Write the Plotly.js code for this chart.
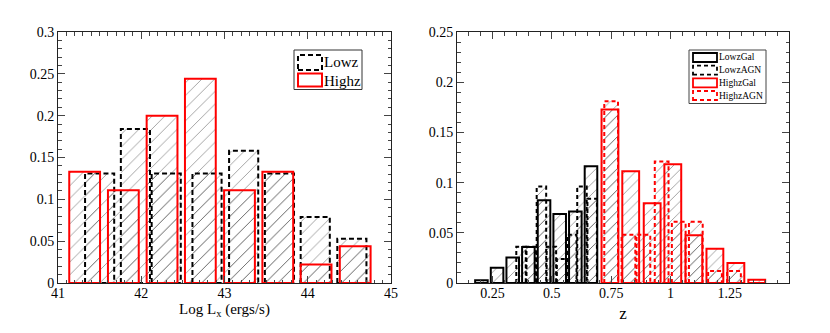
<!DOCTYPE html>
<html>
<head>
<meta charset="utf-8">
<script src="https://cdn.plot.ly/plotly-3.0.1.min.js"></script>
<style>html,body{margin:0;padding:0;background:#fff;}#chart{width:830px;height:333px;}</style>
</head>
<body>
<div id="chart"></div>
<script>
// ---- Left panel: Log Lx distributions ----
const lxLowzCenters = [41.50, 41.93, 42.30, 42.79, 43.23, 43.66, 44.09, 44.53];
const lxLowzFrac    = [0.131, 0.184, 0.131, 0.131, 0.158, 0.131, 0.079, 0.053];
const lxHighzCenters = [41.32, 41.785, 42.25, 42.71, 43.18, 43.64, 44.10, 44.57];
const lxHighzFrac    = [0.133, 0.111, 0.200, 0.244, 0.111, 0.133, 0.022, 0.044];

// ---- Right panel: redshift distributions ----
const zLowzGalCenters = [0.203, 0.269, 0.335, 0.401, 0.467, 0.533, 0.599, 0.665];
const zLowzGalFrac    = [0.0027, 0.0153, 0.0253, 0.0359, 0.0824, 0.0688, 0.0711, 0.1164];
const zLowzAgnCenters = [0.370, 0.413, 0.456, 0.498, 0.541, 0.584, 0.627, 0.670];
const zLowzAgnFrac    = [0.036, 0.036, 0.096, 0.036, 0.024, 0.048, 0.096, 0.084];
const zHighzGalCenters = [0.745, 0.8325, 0.923, 1.010, 1.099, 1.1875, 1.276, 1.364];
const zHighzGalFrac    = [0.1729, 0.1114, 0.0795, 0.1184, 0.0475, 0.0342, 0.0200, 0.0033];
const zHighzAgnCenters = [0.750, 0.823, 0.886, 0.963, 1.035, 1.107, 1.188, 1.268];
const zHighzAgnFrac    = [0.181, 0.048, 0.048, 0.121, 0.061, 0.061, 0.012, 0.012];

const leftTicks = [41, 42, 43, 44, 45];
const rightTicks = [0.25, 0.5, 0.75, 1, 1.25];
const leftLegend = ['Lowz', 'Highz'];
const rightLegend = ['LowzGal', 'LowzAGN', 'HighzGal', 'HighzAGN'];

const W = 830, H = 333;
const FONT = 'Liberation Serif';
const HATCH = '#383838';

function hatchBar(x, y, width, xa, ya, size, solidity) {
  return {
    type: 'bar', x: x, y: y, width: width, xaxis: xa, yaxis: ya,
    marker: {
      color: 'rgba(0,0,0,0)',
      line: {width: 0},
      pattern: {shape: '/', fgcolor: HATCH, bgcolor: 'rgba(0,0,0,0)', size: size, solidity: solidity, fillmode: 'overlay'}
    },
    hoverinfo: 'skip', showlegend: false
  };
}
function outline(x, y, width, xa, ya, color, lw, dash) {
  const xs = [], ys = [];
  for (let i = 0; i < x.length; i++) {
    const x0 = x[i] - width / 2, x1 = x[i] + width / 2;
    xs.push(x0, x0, x1, x1, x0, null);
    ys.push(0, y[i], y[i], 0, 0, null);
  }
  return {
    type: 'scatter', mode: 'lines', x: xs, y: ys, xaxis: xa, yaxis: ya,
    line: {color: color, width: lw, dash: dash}, connectgaps: false,
    hoverinfo: 'skip', showlegend: false
  };
}

const data = [
  hatchBar(lxLowzCenters, lxLowzFrac, 0.35, 'x', 'y', 9, 0.1),
  hatchBar(lxHighzCenters, lxHighzFrac, 0.37, 'x', 'y', 9, 0.1),
  outline(lxLowzCenters, lxLowzFrac, 0.35, 'x', 'y', '#000', 2, '5px,3px'),
  outline(lxHighzCenters, lxHighzFrac, 0.37, 'x', 'y', '#ff0000', 2, 'solid'),

  hatchBar(zLowzGalCenters, zLowzGalFrac, 0.053, 'x2', 'y2', 7.5, 0.12),
  hatchBar(zLowzAgnCenters, zLowzAgnFrac, 0.040, 'x2', 'y2', 7.5, 0.12),
  hatchBar(zHighzGalCenters, zHighzGalFrac, 0.071, 'x2', 'y2', 7.5, 0.12),
  hatchBar(zHighzAgnCenters, zHighzAgnFrac, 0.058, 'x2', 'y2', 7.5, 0.12),
  outline(zLowzGalCenters, zLowzGalFrac, 0.053, 'x2', 'y2', '#000', 2, 'solid'),
  outline(zLowzAgnCenters, zLowzAgnFrac, 0.040, 'x2', 'y2', '#000', 2, '4px,3px'),
  outline(zHighzGalCenters, zHighzGalFrac, 0.071, 'x2', 'y2', '#ff0000', 2, 'solid'),
  outline(zHighzAgnCenters, zHighzAgnFrac, 0.058, 'x2', 'y2', '#ff0000', 2, '4px,3px')
];

function px(x) { return x / W; }
function py(y) { return 1 - y / H; }

const axisCommon = {
  showgrid: false, zeroline: false, showline: true, mirror: 'ticks',
  linecolor: '#222', linewidth: 1, ticks: 'inside', ticklen: 7, tickwidth: 1, tickcolor: '#444',
  tickfont: {family: FONT, size: 14, color: '#000'}, fixedrange: true
};

const shapes = [];
const annotations = [];
function rectPx(x0, y0, x1, y1, color, w, dash) {
  shapes.push({type: 'rect', xref: 'paper', yref: 'paper', x0: px(x0), x1: px(x1), y0: py(y1), y1: py(y0),
    line: {color: color, width: w, dash: dash}, fillcolor: 'rgba(0,0,0,0)'});
}
function textPx(x, y, t, size) {
  annotations.push({xref: 'paper', yref: 'paper', x: px(x), y: py(y), text: t, showarrow: false,
    xanchor: 'left', yanchor: 'middle', font: {family: FONT, size: size, color: '#000'}});
}
// left legend
rectPx(294, 50, 362, 89.5, '#333', 1, 'solid');
rectPx(298, 55, 322, 70, '#000', 2, '5px,3px');
rectPx(298, 73.5, 322, 86.5, '#ff0000', 2, 'solid');
textPx(322, 62.5, leftLegend[0], 15);
textPx(322, 80.5, leftLegend[1], 15);
// right legend
rectPx(689, 50, 766, 103.5, '#444', 1, 'solid');
const rowY = [57.5, 70.2, 82.8, 95.5];
const sampColors = ['#000', '#000', '#ff0000', '#ff0000'];
const sampDash = ['solid', '4px,3px', 'solid', '4px,3px'];
for (let i = 0; i < 4; i++) {
  rectPx(693, rowY[i] - 4.5, 717, rowY[i] + 4.5, sampColors[i], 1.8, sampDash[i]);
  textPx(717, rowY[i], rightLegend[i], 9.5);
}

const layout = {
  width: W, height: H,
  margin: {l: 0, r: 0, t: 0, b: 0},
  paper_bgcolor: '#fff', plot_bgcolor: '#fff',
  showlegend: false, barmode: 'overlay', bargap: 0,
  font: {family: FONT, color: '#000'},
  xaxis: Object.assign({}, axisCommon, {
    domain: [58 / W, 391 / W], range: [41, 45], anchor: 'y',
    tickmode: 'array', tickvals: leftTicks, ticklabelstandoff: -3,
    minor: {tickmode: 'linear', tick0: 41, dtick: 0.1, ticklen: 3.5, ticks: 'inside', tickcolor: '#444'},
    title: {text: 'Log L<sub>x</sub> (ergs/s)', font: {family: FONT, size: 15, color: '#000'}, standoff: 3}
  }),
  yaxis: Object.assign({}, axisCommon, {
    domain: [1 - 283 / H, 1 - 32 / H], range: [0, 0.3], anchor: 'x',
    tickmode: 'linear', tick0: 0, dtick: 0.05,
    minor: {tickmode: 'linear', tick0: 0, dtick: 0.01, ticklen: 3.5, ticks: 'inside', tickcolor: '#444'}
  }),
  xaxis2: Object.assign({}, axisCommon, {
    domain: [457 / W, 789 / W], range: [0.1, 1.5], anchor: 'y2',
    tickmode: 'array', tickvals: rightTicks, ticklabelstandoff: -3,
    minor: {tickmode: 'linear', tick0: 0.1, dtick: 0.05, ticklen: 3.5, ticks: 'inside', tickcolor: '#444'},
    title: {text: 'z', font: {family: FONT, size: 17, color: '#000'}, standoff: 7}
  }),
  yaxis2: Object.assign({}, axisCommon, {
    domain: [1 - 283 / H, 1 - 32 / H], range: [0, 0.25], anchor: 'x2',
    tickmode: 'linear', tick0: 0, dtick: 0.05,
    minor: {tickmode: 'linear', tick0: 0, dtick: 0.01, ticklen: 3.5, ticks: 'inside', tickcolor: '#444'}
  }),
  shapes: shapes,
  annotations: annotations
};

Plotly.newPlot('chart', data, layout, {displayModeBar: false, staticPlot: true});
</script>
</body>
</html>
